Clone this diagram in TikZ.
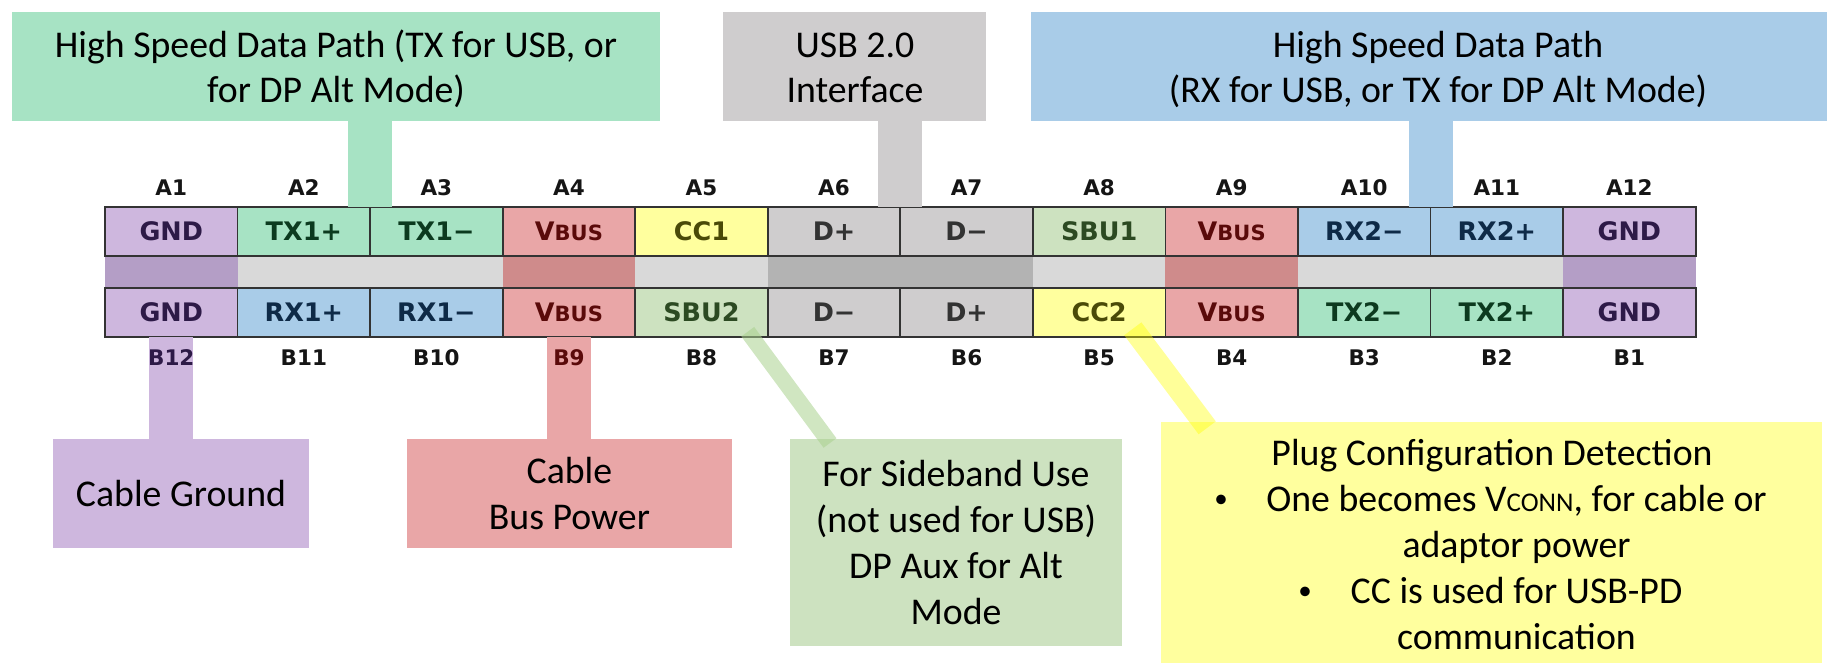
\documentclass[tikz,border=0pt]{standalone}
\usepackage{fontspec}
\setmainfont{Carlito}
\newfontfamily\pinfont{DejaVu Sans}
\usetikzlibrary{calc}
\definecolor{tgreen}{HTML}{A7E3C4}
\definecolor{ugray}{HTML}{CFCDCE}
\definecolor{rblue}{HTML}{A9CCE8}
\definecolor{gpurple}{HTML}{CEB7DE}
\definecolor{vred}{HTML}{E9A6A7}
\definecolor{sgreen}{HTML}{CDE2C0}
\definecolor{cyellow}{HTML}{FFFF9E}
\definecolor{stripgray}{HTML}{D9D9D9}
\definecolor{stripdark}{HTML}{B3B3B3}
\definecolor{strippurple}{HTML}{B49EC6}
\definecolor{stripred}{HTML}{CF8B8B}
\definecolor{txtpurple}{HTML}{2D1A47}
\definecolor{txtgreen}{HTML}{0C3A1F}
\definecolor{txtred}{HTML}{5A0A0A}
\definecolor{txtolive}{HTML}{4A4A08}
\definecolor{txtgray}{HTML}{333333}
\definecolor{txtsbu}{HTML}{2C4A22}
\definecolor{txtblue}{HTML}{0E2A47}
\definecolor{lblblack}{HTML}{151515}
\definecolor{leadgreen}{HTML}{A9D18E}
\definecolor{leadyellow}{HTML}{FFFF00}
\newcommand{\vbus}{V{\fontsize{21}{21}\selectfont BUS}}
\newcommand{\vconn}{V{\fontsize{27}{27}\selectfont CONN}}
\begin{document}
\begin{tikzpicture}[x=1pt,y=-1pt,
  callout/.style={inner sep=0pt, outer sep=0pt, draw=none},
  ctext/.style={anchor=base, inner sep=0pt, font=\fontsize{37.8}{46}\selectfont, text=black},
  bulletmark/.style={anchor=base, inner sep=0pt, font=\fontsize{27}{30}\selectfont, text=black},
  pin/.style={draw=black!80, line width=1.8pt, minimum width=132.55pt, minimum height=49pt,
    inner sep=0pt, outer sep=0pt, font=\pinfont\bfseries\fontsize{25.5}{26}\selectfont},
  pinlabel/.style={inner sep=0pt, font=\pinfont\bfseries\fontsize{21.5}{22}\selectfont},
  stem/.style={line width=44pt},
]
\useasboundingbox (0,0) rectangle (1827,662);

% callout boxes
\node[callout, fill=tgreen, minimum width=648.5pt, minimum height=109pt] (hsl) at (335.75,66.2) {};
\node[callout, fill=ugray, minimum width=263pt, minimum height=109pt] (usb) at (854.5,66.2) {};
\node[callout, fill=rblue, minimum width=814pt, minimum height=109pt] (hsr) at (1438,66.2) {};
\node[callout, fill=gpurple, minimum width=256pt, minimum height=108.7pt] (cg) at (181,493.35) {};
\node[callout, fill=vred, minimum width=324.7pt, minimum height=108.7pt] (cbp) at (569.35,493.35) {};
\node[callout, fill=sgreen, minimum width=332pt, minimum height=207pt] (sbu) at (956,542.5) {};
\node[callout, fill=cyellow, minimum width=660.7pt, minimum height=250pt] (plug) at (1491.65,547.3) {};

% texts of callouts
\node[ctext] (hsl1) at (336,57.3) {High Speed Data Path (TX for USB, or};
\node[ctext] (hsl2) at (336,102.7) {for DP Alt Mode)};
\node[ctext] (usb1) at (855,57.3) {USB 2.0};
\node[ctext] (usb2) at (855,102.7) {Interface};
\node[ctext] (hsr1) at (1438,57.3) {High Speed Data Path};
\node[ctext] (hsr2) at (1438,102.7) {(RX for USB, or TX for DP Alt Mode)};
\node[ctext] (cg1) at (181,506.7) {Cable Ground};
\node[ctext] (cbp1) at (569.4,483.3) {Cable};
\node[ctext] (cbp2) at (569.4,529.3) {Bus Power};
\node[ctext] (sbu1) at (956,486.7) {For Sideband Use};
\node[ctext] (sbu2) at (956,532) {(not used for USB)};
\node[ctext] (sbu3) at (956,578) {DP Aux for Alt};
\node[ctext] (sbu4) at (956,624) {Mode};
\node[ctext] (plug1) at (1492,465.7) {Plug Configuration Detection};
\node[bulletmark] (bul1) at (1221,507) {•};
\node[ctext] (plug2) at (1516.5,511) {One becomes \vconn, for cable or};
\node[ctext] (plug3) at (1516.5,557) {adaptor power};
\node[bulletmark] (bul2) at (1305,599.3) {•};
\node[ctext] (plug4) at (1516.5,603.3) {CC is used for USB-PD};
\node[ctext] (plug5) at (1516.5,649.3) {communication};

% middle strip of the connector
\foreach \s/\e/\f in {0/1/strippurple, 1/3/stripgray, 3/4/stripred, 4/5/stripgray, 5/7/stripdark,
                      7/8/stripgray, 8/9/stripred, 9/11/stripgray, 11/12/strippurple}
  \fill[\f] ({105+132.55*\s},256) rectangle ({105+132.55*\e},288);

% A row
\foreach \i/\t/\f/\c/\n in {1/GND/gpurple/txtpurple/a1, 2/TX1+/tgreen/txtgreen/a2,
    3/TX1−/tgreen/txtgreen/a3, 4/\vbus/vred/txtred/a4, 5/CC1/cyellow/txtolive/a5,
    6/D+/ugray/txtgray/a6, 7/D−/ugray/txtgray/a7, 8/SBU1/sgreen/txtsbu/a8,
    9/\vbus/vred/txtred/a9, 10/RX2−/rblue/txtblue/a10, 11/RX2+/rblue/txtblue/a11,
    12/GND/gpurple/txtpurple/a12}
  \node[pin, fill=\f, text=\c] (\n) at ({105+132.55*(\i-0.5)},231.5) {\t};

% B row
\foreach \i/\t/\f/\c/\n in {1/GND/gpurple/txtpurple/b12, 2/RX1+/rblue/txtblue/b11,
    3/RX1−/rblue/txtblue/b10, 4/\vbus/vred/txtred/b9, 5/SBU2/sgreen/txtsbu/b8,
    6/D−/ugray/txtgray/b7, 7/D+/ugray/txtgray/b6, 8/CC2/cyellow/txtolive/b5,
    9/\vbus/vred/txtred/b4, 10/TX2−/tgreen/txtgreen/b3, 11/TX2+/tgreen/txtgreen/b2,
    12/GND/gpurple/txtpurple/b1}
  \node[pin, fill=\f, text=\c] (\n) at ({105+132.55*(\i-0.5)},312.5) {\t};

% stems
\draw[stem, tgreen] (a2.north east |- hsl.south) -- (a2.north east);
\draw[stem, ugray] (a6.north east |- usb.south) -- (a6.north east);
\draw[stem, rblue] (a10.north east |- hsr.south) -- (a10.north east);
\draw[stem, gpurple] (b12.south) -- (b12.south |- cg.north);
\draw[stem, vred] (b9.south) -- (b9.south |- cbp.north);

% pin numbers
\foreach \i in {1,...,12}
  \node[pinlabel, text=lblblack] (lA\i) at ({105+132.55*(\i-0.5)},188) {A\i};
\foreach \i/\t/\c in {1/B12/txtpurple, 2/B11/lblblack, 3/B10/lblblack, 4/B9/txtred,
    5/B8/lblblack, 6/B7/lblblack, 7/B6/lblblack, 8/B5/lblblack, 9/B4/lblblack,
    10/B3/lblblack, 11/B2/lblblack, 12/B1/lblblack}
  \node[pinlabel, text=\c] (l\t) at ({105+132.55*(\i-0.5)},358) {\t};

% diagonal leaders
\coordinate (sbuS) at ($(b8.south east)+(-20,-5.3)$);
\coordinate (sbuE) at ($(sbu.north)+(-126,4)$);
\draw[line width=16pt, leadgreen, opacity=0.55] (sbuS) -- (sbuE);
\coordinate (ccS) at ($(b5.south east)+(-32.6,-8.2)$);
\coordinate (ccE) at ($(plug.north west)+(45.9,5.5)$);
\draw[line width=21.5pt, leadyellow, opacity=0.4] (ccS) -- (ccE);
\end{tikzpicture}
\end{document}
